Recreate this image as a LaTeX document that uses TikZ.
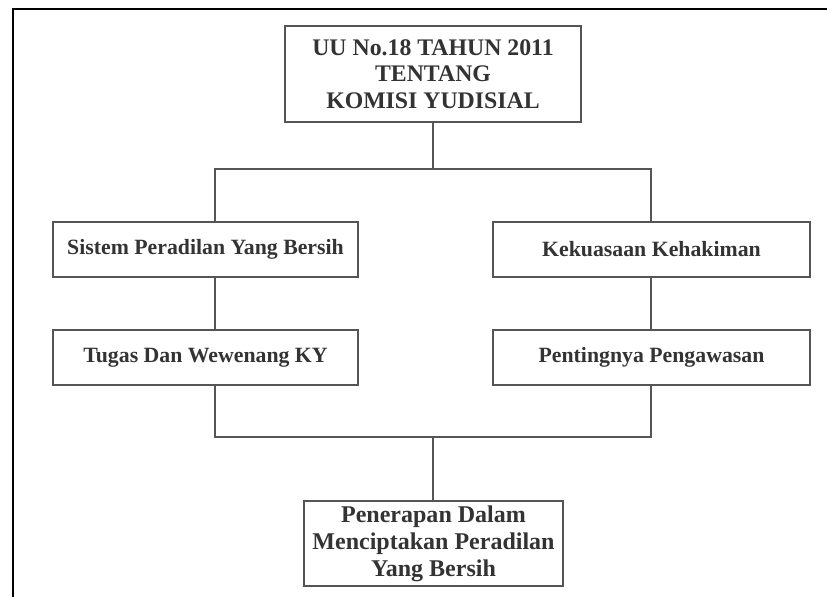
\documentclass[tikz,border=0pt]{standalone}
\usepackage{fontspec}
\setmainfont{Liberation Serif}
\definecolor{boxline}{HTML}{555555}
\definecolor{boxtext}{HTML}{333333}

\begin{document}
\begin{tikzpicture}[x = 0.3mm, y = -0.3mm,
		kotak/.style = {draw = boxline, line width = 1.4pt, text = boxtext, align = center, inner sep = 0pt, font = \bfseries},
		garis/.style = {draw = boxline, line width = 1.4pt},
		besar/.style = {font = \fontsize{20.3}{22.6}\selectfont\bfseries},
		sedang/.style = {font = \fontsize{18.6}{22}\selectfont\bfseries},
		bawah/.style = {font = \fontsize{20.5}{23}\selectfont\bfseries}]
		\useasboundingbox (0, 0) rectangle (827, 597);
		\draw[black, line width = 1.3pt] (13, 597) -- (13, 9) -- (827, 9);
		\node[kotak, besar, minimum width = 88.8mm, minimum height = 28.8mm] (uu) at (433, 74) {UU No.18 TAHUN 2011\\TENTANG\\KOMISI YUDISIAL};
		\node[kotak, sedang, minimum width = 91.5mm, minimum height = 16.5mm] (sistem) at (205.5, 249.5) {Sistem Peradilan Yang Bersih};
		\node[kotak, sedang, minimum width = 95.1mm, minimum height = 16.5mm] (kuasa) at (651.5, 249.5) {Kekuasaan Kehakiman};
		\node[kotak, sedang, minimum width = 91.5mm, minimum height = 16.5mm] (tugas) at (205.5, 357.5) {Tugas Dan Wewenang KY};
		\node[kotak, sedang, minimum width = 95.1mm, minimum height = 16.5mm] (awas) at (651.5, 357.5) {Pentingnya Pengawasan};
		\node[kotak, bawah, minimum width = 77.7mm, minimum height = 25.5mm] (terap) at (433.5, 543.5) {Penerapan Dalam\\Menciptakan Peradilan\\Yang Bersih};
		\coordinate (atasKiri) at (215, 169);
		\coordinate (atasKanan) at (651, 169);
		\coordinate (bawahKiri) at (215, 437);
		\coordinate (bawahKanan) at (651, 437);
		\draw[garis] (uu.south) -- (uu.south |- atasKiri);
		\draw[garis] (sistem.north -| atasKiri) -- (atasKiri) -- (atasKanan) -- (kuasa.north -| atasKanan);
		\draw[garis] (sistem.south -| atasKiri) -- (tugas.north -| atasKiri);
		\draw[garis] (kuasa.south -| atasKanan) -- (awas.north -| atasKanan);
		\draw[garis] (tugas.south -| bawahKiri) -- (bawahKiri) -- (bawahKanan) -- (awas.south -| bawahKanan);
		\draw[garis] (uu.south |- bawahKiri) -- (uu.south |- terap.north);
	\end{tikzpicture}
\end{document}
